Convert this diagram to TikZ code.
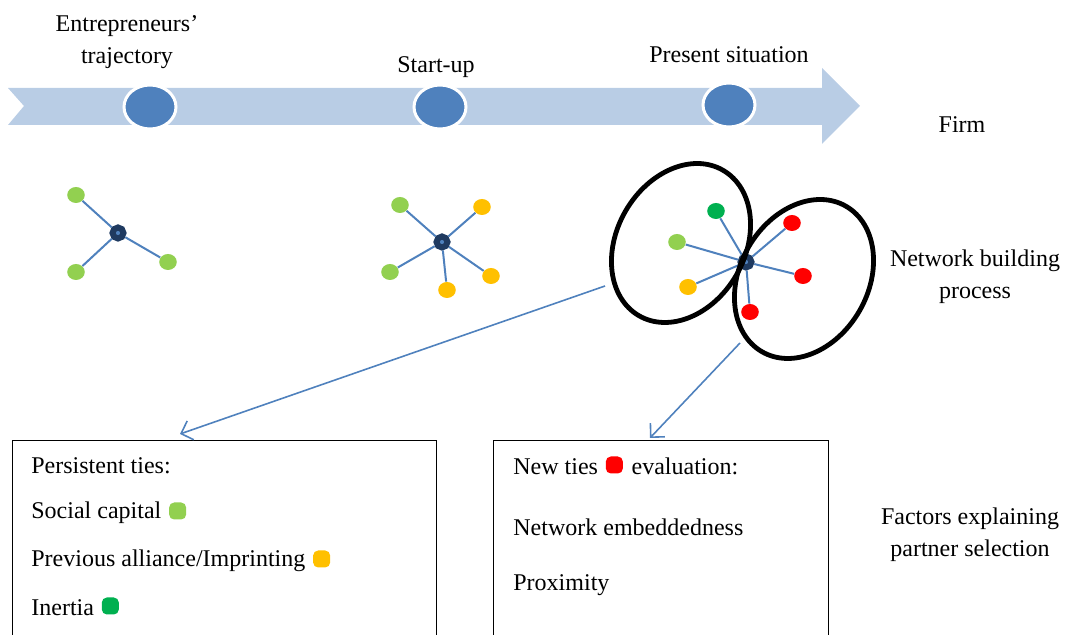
\documentclass[tikz,border=0pt]{standalone}
\usepackage{fontspec}
\setmainfont{Liberation Serif}
\usepackage{tikz}
\usetikzlibrary{positioning}
\usetikzlibrary{shapes.geometric}
\usetikzlibrary{arrows.meta}
\usepackage{xcolor}
\definecolor{band}{HTML}{B9CDE5}
\definecolor{stage}{HTML}{4F81BD}
\definecolor{hubcol}{HTML}{1F3A60}
\definecolor{social}{HTML}{92D050}
\definecolor{prior}{HTML}{FFC000}
\definecolor{inert}{HTML}{00B050}
\definecolor{newtie}{HTML}{FF0000}

\tikzset{
  stagedot/.style={ellipse, fill=stage, draw=white, line width=1.5pt, minimum width=26pt, minimum height=22pt},
  hub/.style={circle, fill=stage, draw=hubcol, line width=3pt, minimum size=5.5pt, inner sep=0pt},
  leaf/.style={ellipse, minimum width=8.8pt, minimum height=8pt, inner sep=0pt},
  tie/.style={stage, line width=1pt},
  group/.style={ellipse, draw, line width=2.4pt, minimum width=84pt, minimum height=64pt, rotate=60},
  link/.style={stage, line width=0.8pt, -{Straight Barb[length=5pt, width=10pt]}},
  factorbox/.style={draw, line width=0.6pt, anchor=north west, minimum height=110pt},
  row/.style={anchor=west, inner sep=0pt},
  chip/.style={minimum size=8.5pt, inner sep=0pt, rounded corners=2.5pt}
}

\begin{document}
\begin{tikzpicture}[x=0.5pt, y=-0.5pt, font=\fontsize{12}{16}\selectfont]
     \useasboundingbox (0,0) rectangle (1067,635);
     \clip (0,0) rectangle (1067,635);

     % time line
     \fill[band] (8,88) -- (822,88) -- (822,68) -- (860,106) -- (822,144) -- (822,125) -- (8,125) -- (24,106) -- cycle;
     \node[stagedot] (s1) at (150,107) {};
     \node[stagedot] (s2) at (440,107) {};
     \node[stagedot] (s3) at (729,105) {};
     \node[align=center] (traj) at (127,42) {Entrepreneurs’\\trajectory};
     \node (start) at (436,67) {Start-up};
     \node (now) at (729,55) {Present situation};
     \node (firm) at (962,125) {Firm};

     % networks
     \node[hub] (h1) at (118,233) {};
     \node[leaf, fill=social] (a1) at (76,195) {};
     \node[leaf, fill=social] (a2) at (76,272) {};
     \node[leaf, fill=social] (a3) at (168,262) {};
     \foreach \n in {a1,a2,a3} \draw[tie] (h1) -- (\n);

     \node[hub] (h2) at (442,242) {};
     \node[leaf, fill=social] (b1) at (400,205) {};
     \node[leaf, fill=social] (b2) at (390,272) {};
     \node[leaf, fill=prior] (b3) at (482,207) {};
     \node[leaf, fill=prior] (b4) at (491,276) {};
     \node[leaf, fill=prior] (b5) at (447,290) {};
     \foreach \n in {b1,b2,b3,b4,b5} \draw[tie] (h2) -- (\n);

     \node[hub] (h3) at (746,262) {};
     \node[leaf, fill=inert] (c1) at (716,211) {};
     \node[leaf, fill=social] (c2) at (677,242) {};
     \node[leaf, fill=prior] (c3) at (688,287) {};
     \node[leaf, fill=newtie] (c4) at (792,223) {};
     \node[leaf, fill=newtie] (c5) at (803,276) {};
     \node[leaf, fill=newtie] (c6) at (750,312) {};
     \foreach \n in {c1,c2,c3,c4,c5,c6} \draw[tie] (h3) -- (\n);
     \node[group] (old) at (681,243) {};
     \node[group] (new) at (804,279) {};
     \node[align=center] (build) at (975,277) {Network building\\process};

     % factors
     \node[factorbox, minimum width=212pt] (persist) at (12,440) {};
     \node[factorbox, minimum width=167.5pt] (eval) at (493,440) {};
     \coordinate (fromold) at (605,286);
     \coordinate (toold) at (180,434);
     \coordinate (fromnew) at (740,343);
     \coordinate (tonew) at (650,438);
     \draw[link] (fromold) -- (toold);
     \draw[link] (fromnew) -- (tonew);

     \node[row] (pt) at (31,466) {Persistent ties:};
     \node[row] (sc) at (31,513) {Social capital};
     \node[chip, fill=social, right=3.5pt of sc, yshift=1pt] (scc) {};
     \node[row] (pa) at (31,561) {Previous alliance/Imprinting};
     \node[chip, fill=prior, right=3.5pt of pa, yshift=1pt] (pac) {};
     \node[row] (in) at (31,608) {Inertia};
     \node[chip, fill=inert, right=3.5pt of in, yshift=1pt] (inc) {};

     \node[row] (nt) at (513,467) {New ties};
     \node[chip, fill=newtie, right=3.5pt of nt, yshift=1pt] (ntc) {};
     \node[anchor=base west, inner sep=0pt] (ev) at ([xshift=4pt]ntc.east |- nt.base) {evaluation:};
     \node[row] (ne) at (513,527) {Network embeddedness};
     \node[row] (px) at (513,585) {Proximity};
     \node[align=center] (fac) at (970,535) {Factors explaining\\partner selection};
\end{tikzpicture}
\end{document}
